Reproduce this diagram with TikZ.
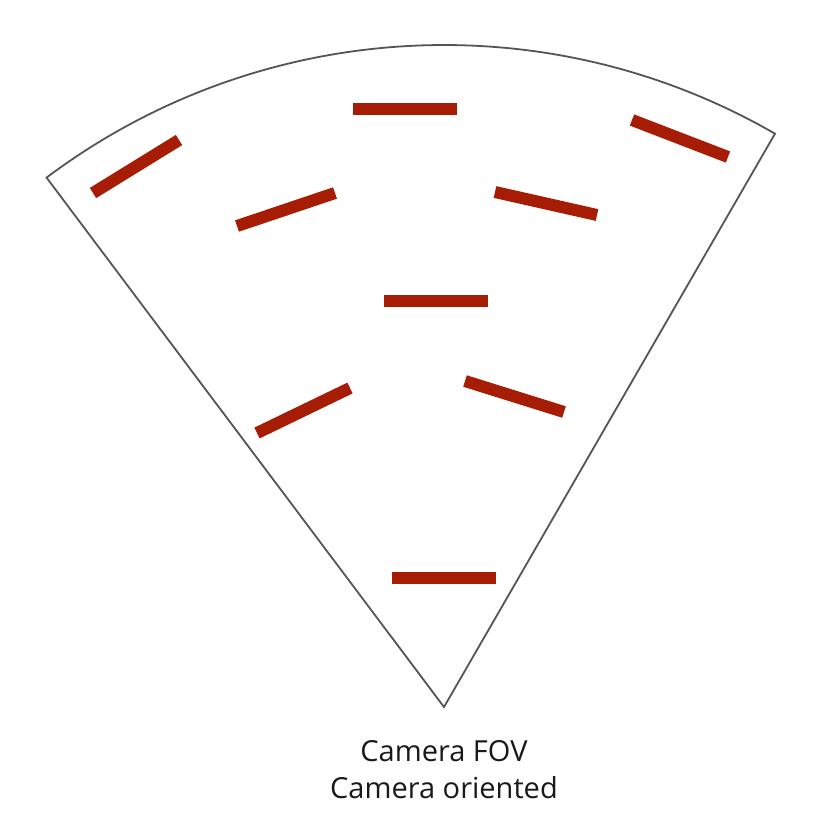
\documentclass[tikz,border=0pt]{standalone}
\usepackage{fontspec}
\setmainfont{Open Sans}
\definecolor{barred}{RGB}{166,28,4}
\definecolor{edgegray}{RGB}{85,85,85}
\tikzset{
  bar/.style={draw=barred, line width=12pt, line cap=butt},
  fan/.style={draw=edgegray, line width=1.8pt, line join=miter},
  caption/.style={font=\fontsize{29}{35}\selectfont, text=black!90, anchor=base, inner sep=0pt}
}
\begin{document}
\begin{tikzpicture}[x=1pt,y=-1pt]
\useasboundingbox (0,0) rectangle (837,831);
\coordinate (apex) at (444,707);
\draw[fan] (apex) -- ([shift={(-126.9:662)}]apex) arc[start angle=-126.9, end angle=-60, radius=662] -- cycle;
% bars
\draw[bar] (93,193) -- (179,140);
\draw[bar] (353,109) -- (457,109);
\draw[bar] (632,120) -- (728,157);
\draw[bar] (237,226) -- (335,193);
\draw[bar] (495,192) -- (597,215);
\draw[bar] (384,301) -- (488,301);
\draw[bar] (257,433) -- (350,388);
\draw[bar] (465,381) -- (564,412);
\draw[bar] (392,578) -- (496,578);
\node[caption] (t1) at (444,761) {Camera FOV};
\node[caption] (t2) at (444,798) {Camera oriented};
\end{tikzpicture}
\end{document}
